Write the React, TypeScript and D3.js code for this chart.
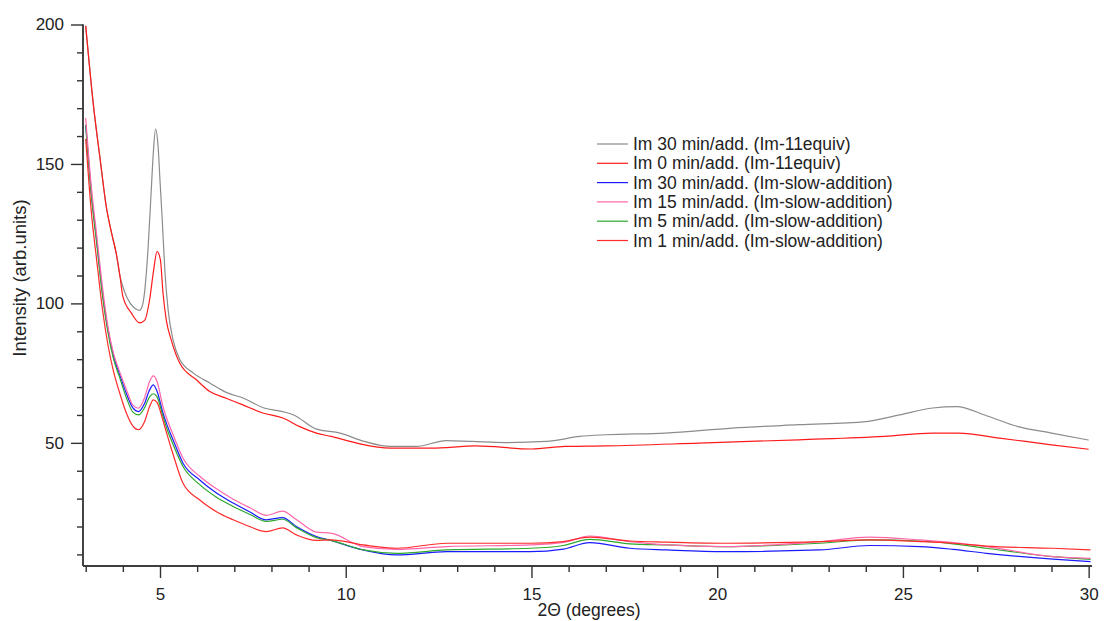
import React, { useEffect, useRef } from 'react';
import * as d3 from 'd3';

// upper pair (Im-11equiv)
const grayX = [3.0, 3.2, 3.4, 3.55, 3.7, 3.82, 3.92, 4.05, 4.2, 4.35, 4.45, 4.54, 4.6, 4.68, 4.77, 4.82, 4.88, 4.95, 5.0, 5.06, 5.13, 5.22, 5.35, 5.53, 5.9, 6.35, 6.8, 7.25, 7.8, 8.3, 8.6, 9.2, 9.85, 10.5, 11.2, 11.9, 12.7, 13.4, 14.3, 15.4, 16.3, 17.0, 18.6, 20.4, 22.2, 24.0, 24.9, 25.8, 26.45, 27.2, 28.1, 29.0, 30.0];
const grayY = [199.5, 172, 150.5, 135, 125, 118, 110, 104, 100, 98, 97.5, 100, 106, 120, 142, 154, 162.5, 156, 144, 130, 112, 97.5, 87, 80, 75, 71.4, 68, 66, 62.5, 61.2, 60, 55, 53.5, 50.5, 48.7, 48.7, 50.8, 50.5, 50.1, 50.5, 52.3, 52.9, 53.5, 55.3, 56.5, 57.6, 60, 62.5, 63, 60, 55.8, 53.5, 51];

const red0X = [3.0, 3.2, 3.4, 3.55, 3.7, 3.82, 3.92, 4.0, 4.23, 4.45, 4.59, 4.72, 4.83, 4.92, 5.01, 5.08, 5.17, 5.3, 5.53, 5.98, 6.34, 6.78, 7.23, 7.77, 8.31, 8.76, 9.21, 9.61, 10.3, 11.2, 12.3, 13.5, 15.0, 15.9, 17.0, 19.5, 22.2, 24.5, 25.8, 26.5, 27.6, 29.0, 30.0];
const red0Y = [199.5, 172, 150.5, 135, 125, 118, 110, 102.5, 96.5, 93, 94, 101.3, 112, 118.6, 115.7, 103.8, 94, 87, 78.6, 72.6, 68.4, 66, 63.6, 60.7, 58.9, 55.8, 53.5, 52.3, 49.9, 48.1, 48.1, 48.9, 47.8, 48.7, 48.9, 49.9, 51.1, 52.3, 53.5, 53.5, 51.7, 49.3, 47.7];

// lower group (Im-slow-addition), shared angles
const slowX = [3.0, 3.15, 3.3, 3.45, 3.6, 3.75, 3.9, 4.1, 4.27, 4.42, 4.58, 4.72, 4.82, 4.92, 5.08, 5.2, 5.35, 5.62, 6.07, 6.52, 6.97, 7.41, 7.86, 8.3, 8.67, 9.21, 9.6, 10.47, 11.37, 12.72, 14.96, 15.86, 16.57, 17.65, 18.65, 20.2, 22.77, 24.1, 25.46, 26.35, 27.25, 29.04, 30.05];
const blue30 = [164, 140, 122, 104, 90.5, 81, 75, 67.5, 62.5, 61.2, 64, 69, 70.8, 68.5, 60.7, 56, 51.1, 42.7, 36.7, 32, 28.4, 25.3, 22.4, 23.2, 20, 16.4, 15, 11.6, 9.8, 11, 11, 11.9, 14.2, 12.2, 11.6, 11, 11.6, 13.2, 12.8, 11.8, 10.4, 8.3, 7.4];
const pink15 = [166.5, 142, 124, 106, 91.5, 82, 76, 69, 63.5, 62.4, 66, 72, 74, 72, 63, 58, 53, 44.5, 38, 33.5, 29.8, 26.8, 24, 25.5, 22.5, 18, 17.6, 12.8, 11.8, 12.8, 13.4, 14.3, 16.6, 14.6, 13.4, 12.8, 14.6, 16.2, 15.2, 14.2, 12.8, 9.2, 8.6];
const green5 = [164, 139, 121, 103, 89.5, 80, 74, 66, 61, 60, 62.5, 66.5, 67.6, 66.5, 59.5, 54.5, 49.5, 41.5, 35, 30.5, 27.2, 24.4, 21.8, 22.6, 19.6, 16, 15, 11.6, 10.4, 11.6, 12.2, 13.2, 15.4, 13.8, 13.4, 12.8, 14, 15.2, 14.8, 13.8, 12.2, 9.2, 8.2];
const red1 = [159, 133, 115, 98, 85, 75.5, 68.5, 60.5, 56, 54.7, 57.5, 63, 65.4, 64.5, 58, 52.5, 46, 35.5, 29.5, 25.3, 22.4, 20, 18.2, 19.5, 17, 15, 15.2, 13.4, 12.2, 14, 14, 14.6, 16.2, 14.8, 14.4, 14, 14.6, 15.2, 14.6, 14, 13, 12.2, 11.6];

const legendLabels = [
  'Im 30 min/add. (Im-11equiv)',
  'Im 0 min/add. (Im-11equiv)',
  'Im 30 min/add. (Im-slow-addition)',
  'Im 15 min/add. (Im-slow-addition)',
  'Im 5 min/add. (Im-slow-addition)',
  'Im 1 min/add. (Im-slow-addition)',
];
const colors = ['#8c8c8c', '#ff1a1a', '#1a1aff', '#ff66aa', '#2ea82e', '#ff2a2a'];
const xTicks = [5, 10, 15, 20, 25, 30];
const yTicks = [50, 100, 150, 200];

const W = 1104;
const H = 621;
const FONT = '"Liberation Sans", Arial, sans-serif';

const App: React.FC = () => {
  const svgRef = useRef<SVGSVGElement | null>(null);

  useEffect(() => {
    const svg = d3.select(svgRef.current);
    svg.selectAll('*').remove();

    const x = d3.scaleLinear().domain([2.927, 30.09]).range([83, 1092]);
    const y = d3.scaleLinear().domain([6.2, 200]).range([565, 24.5]);

    const series = [
      grayX.map((v, i) => [v, grayY[i]]),
      red0X.map((v, i) => [v, red0Y[i]]),
      slowX.map((v, i) => [v, blue30[i]]),
      slowX.map((v, i) => [v, pink15[i]]),
      slowX.map((v, i) => [v, green5[i]]),
      slowX.map((v, i) => [v, red1[i]]),
    ];

    const line = d3.line<number[]>()
      .x(d => x(d[0]))
      .y(d => y(d[1]))
      .curve(d3.curveMonotoneX);

    const order = [0, 1, 2, 4, 3, 5];
    order.forEach(k => {
      svg.append('path')
        .attr('d', line(series[k]))
        .attr('fill', 'none')
        .attr('stroke', colors[k])
        .attr('stroke-width', 1.2);
    });

    // X axis
    const xMinor = d3.range(3, 31, 1).filter(v => v % 5 !== 0);
    const gx = svg.append('g').attr('transform', 'translate(0,566)');
    gx.call(d3.axisBottom(x).tickValues(xMinor).tickSize(6).tickFormat(() => '').tickSizeOuter(0));
    gx.call(g => g.append('g').call(d3.axisBottom(x).tickValues(xTicks).tickSize(12).tickPadding(10).tickSizeOuter(0)));
    gx.selectAll('path.domain').attr('d', `M83,0H1092`);

    // Y axis
    const yMinor = d3.range(10, 200, 10).filter(v => v % 50 !== 0);
    const gy = svg.append('g').attr('transform', 'translate(83,0)');
    gy.call(d3.axisLeft(y).tickValues(yMinor).tickSize(6).tickFormat(() => '').tickSizeOuter(0));
    gy.call(g => g.append('g').call(d3.axisLeft(y).tickValues(yTicks).tickSize(12).tickPadding(7).tickSizeOuter(0)));
    gy.selectAll('path.domain').attr('d', `M0,${y(200)}V566`);

    svg.selectAll('.domain, .tick line').attr('stroke', '#333').attr('stroke-width', 1.4);
    svg.selectAll('.tick text')
      .attr('fill', '#222')
      .style('font-family', FONT)
      .style('font-size', '17px');

    // titles
    svg.append('text')
      .attr('x', 589).attr('y', 616)
      .attr('text-anchor', 'middle')
      .style('font-family', FONT).style('font-size', '17.5px').attr('fill', '#222')
      .text('2Θ (degrees)');
    svg.append('text')
      .attr('transform', 'translate(26,278) rotate(-90)')
      .attr('text-anchor', 'middle')
      .style('font-family', FONT).style('font-size', '18.5px').attr('fill', '#222')
      .text('Intensity (arb.units)');

    // legend
    const lg = svg.append('g');
    legendLabels.forEach((lab, i) => {
      const cy = 144 + i * 19.3;
      lg.append('line')
        .attr('x1', 597).attr('x2', 628).attr('y1', cy).attr('y2', cy)
        .attr('stroke', colors[i]).attr('stroke-width', 1.2);
      lg.append('text')
        .attr('x', 633).attr('y', cy).attr('dy', '0.35em')
        .style('font-family', FONT).style('font-size', '17.5px').attr('fill', '#222')
        .text(lab);
    });
  }, []);

  return (
    <div style={{ position: 'absolute', left: 0, top: 0, width: W, height: H, background: '#fff' }}>
      <svg ref={svgRef} width={W} height={H} />
    </div>
  );
};

export default App;
